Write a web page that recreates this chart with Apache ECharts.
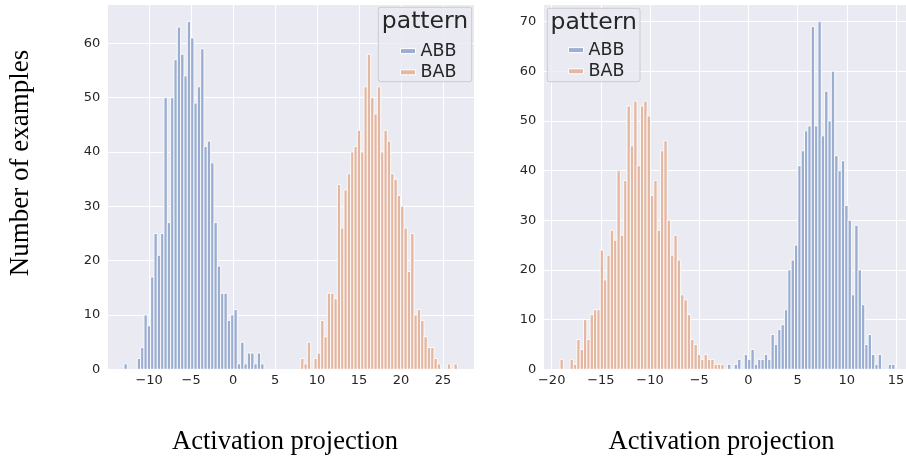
<!DOCTYPE html>
<html>
<head>
<meta charset="utf-8">
<script src="https://cdn.jsdelivr.net/npm/echarts@6/dist/echarts.min.js"></script>
<style>
  html, body { margin: 0; padding: 0; background: #ffffff; }
  #chart { width: 906px; height: 462px; }
</style>
</head>
<body>
<div id="chart"></div>
<script>
// Histogram settings: 100 equal-width bins per panel
const leftBinStart = -13.0;
const leftBinWidth = 0.397;
const rightBinStart = -19.15;
const rightBinWidth = 0.3405;

const patternNames = ['ABB', 'BAB'];
const xAxisTitle = 'Activation projection';
const yAxisTitle = 'Number of examples';
const legendTitle = 'pattern';

// Counts per bin, left panel
const leftABB = [
  1, 0, 0, 0, 2, 4, 10, 8, 17, 25,
  21, 25, 50, 27, 50, 57, 63, 58, 54, 64,
  61, 49, 52, 59, 41, 42, 38, 27, 19, 14,
  14, 9, 10, 11, 1, 5, 1, 3, 3, 1,
  3, 1, 0, 0, 0, 0, 0, 0, 0, 0,
  0, 0, 0, 0, 0, 0, 0, 0, 0, 0,
  0, 0, 0, 0, 0, 0, 0, 0, 0, 0,
  0, 0, 0, 0, 0, 0, 0, 0, 0, 0,
  0, 0, 0, 0, 0, 0, 0, 0, 0, 0,
  0, 0, 0, 0, 0, 0, 0, 0, 0, 0
];
const leftBAB = [
  0, 0, 0, 0, 0, 0, 0, 0, 0, 0,
  0, 0, 0, 0, 0, 0, 0, 0, 0, 0,
  0, 0, 0, 0, 0, 0, 0, 0, 0, 0,
  0, 0, 0, 0, 0, 0, 0, 0, 0, 0,
  0, 0, 0, 0, 0, 0, 0, 0, 0, 0,
  0, 0, 0, 2, 1, 5, 0, 2, 3, 9,
  6, 14, 14, 13, 34, 26, 33, 36, 40, 41,
  44, 40, 52, 58, 50, 47, 52, 40, 44, 42,
  36, 35, 32, 30, 26, 18, 25, 10, 11, 9,
  6, 4, 4, 2, 1, 0, 0, 1, 0, 1
];

// Counts per bin, right panel
const rightABB = [
  0, 0, 0, 0, 0, 0, 0, 0, 0, 0,
  0, 0, 0, 0, 0, 0, 0, 0, 0, 0,
  0, 0, 0, 0, 0, 0, 0, 0, 0, 0,
  0, 0, 0, 0, 0, 0, 0, 0, 0, 0,
  0, 0, 0, 0, 0, 0, 0, 0, 0, 0,
  1, 0, 1, 2, 0, 3, 2, 4, 1, 2,
  2, 3, 2, 7, 5, 8, 9, 12, 20, 22,
  25, 41, 44, 48, 49, 69, 49, 70, 47, 56,
  50, 60, 43, 40, 42, 33, 30, 15, 29, 20,
  13, 5, 7, 3, 1, 3, 0, 0, 1, 1
];
const rightBAB = [
  2, 0, 0, 2, 1, 6, 4, 10, 6, 11,
  12, 12, 24, 18, 23, 28, 26, 40, 27, 38,
  53, 45, 54, 41, 53, 54, 51, 35, 38, 28,
  44, 46, 30, 23, 27, 22, 15, 14, 11, 6,
  5, 3, 2, 3, 2, 2, 1, 1, 1, 0,
  0, 0, 0, 0, 0, 0, 0, 0, 0, 0,
  0, 0, 0, 0, 0, 0, 0, 0, 0, 0,
  0, 0, 0, 0, 0, 0, 0, 0, 0, 0,
  0, 0, 0, 0, 0, 0, 0, 0, 0, 0,
  0, 0, 0, 0, 0, 0, 0, 0, 0, 0
];

const colors = { ABB: 'rgb(155,174,209)', BAB: 'rgb(228,183,162)' };
const panelBg = '#eaeaf2';
const textColor = '#262626';

// turn counts into [binLeft, binRight, count] rows
function bins(counts, start, width) {
  const rows = [];
  counts.forEach((c, i) => {
    if (c > 0) rows.push([start + i * width, start + (i + 1) * width, c]);
  });
  return rows;
}

// axis limits with 5% padding around the data
function padded(start, width, n, pad) {
  const end = start + n * width;
  const m = (end - start) * pad;
  return [start - m, end + m];
}
const leftX = padded(leftBinStart, leftBinWidth, 100, 0.05);
const rightX = padded(rightBinStart, rightBinWidth, 100, 0.05);
const leftYMax = Math.max(...leftABB, ...leftBAB) * 1.05;
const rightYMax = Math.max(...rightABB, ...rightBAB) * 1.05;

function renderBar(params, api) {
  const top = api.coord([api.value(0), api.value(2)]);
  const base = api.coord([api.value(1), 0]);
  return {
    type: 'rect',
    shape: { x: top[0], y: top[1], width: base[0] - top[0], height: base[1] - top[1] },
    style: { fill: api.visual('color'), stroke: '#ffffff', lineWidth: 0.9 }
  };
}

function histSeries(name, counts, start, width, axisIndex) {
  return {
    type: 'custom',
    name: name,
    xAxisIndex: axisIndex,
    yAxisIndex: axisIndex,
    itemStyle: { color: colors[name] },
    encode: { x: [0, 1], y: 2 },
    data: bins(counts, start, width),
    renderItem: renderBar,
    clip: true,
    silent: true
  };
}

const minus = v => String(v).replace('-', '\u2212');

function xAxis(gridIndex, range) {
  return {
    type: 'value', gridIndex: gridIndex, min: range[0], max: range[1],
    minInterval: 5, maxInterval: 5, splitNumber: 8,
    axisLine: { show: false }, axisTick: { show: false },
    splitLine: { show: true, lineStyle: { color: '#ffffff', width: 1 } },
    axisLabel: {
      showMinLabel: false, showMaxLabel: false, margin: 5,
      color: textColor, fontFamily: 'DejaVu Sans', fontSize: 13,
      formatter: minus
    }
  };
}
function yAxis(gridIndex, max) {
  return {
    type: 'value', gridIndex: gridIndex, min: 0, max: max,
    minInterval: 10, maxInterval: 10,
    axisLine: { show: false }, axisTick: { show: false },
    splitLine: { show: true, lineStyle: { color: '#ffffff', width: 1 } },
    axisLabel: {
      showMaxLabel: false, margin: 7,
      color: textColor, fontFamily: 'DejaVu Sans', fontSize: 13
    }
  };
}

function legendBlock(left, top) {
  return {
    data: patternNames, orient: 'vertical', left: left, top: top,
    itemWidth: 15, itemHeight: 5, itemGap: 0, z: 20,
    icon: 'rect', selectedMode: false,
    itemStyle: { borderColor: '#ffffff', borderWidth: 1 },
    textStyle: { color: textColor, fontFamily: 'DejaVu Sans', fontSize: 17.5, lineHeight: 21.2 }
  };
}
function legendFrame(x, y, w, h, cx) {
  return [
    { type: 'rect', z: 10, shape: { x: x, y: y, width: w, height: h, r: 2 },
      style: { fill: 'rgba(234,234,242,0.8)', stroke: '#cccccc', lineWidth: 1 } },
    { type: 'text', z: 11, x: cx, y: y + 15,
      style: { text: legendTitle, fill: textColor, font: '23.5px "DejaVu Sans"',
               align: 'center', verticalAlign: 'middle' } }
  ];
}

const chart = echarts.init(document.getElementById('chart'), null, { renderer: 'canvas' });
chart.setOption({
  animation: false,
  backgroundColor: '#ffffff',
  grid: [
    { left: 107.3, top: 4.2, width: 366.7, height: 365.1, show: true, backgroundColor: panelBg,
      borderWidth: 0, containLabel: false, outerBoundsMode: 'none' },
    { left: 543.3, top: 4.2, width: 368.4, height: 365.1, show: true, backgroundColor: panelBg,
      borderWidth: 0, containLabel: false, outerBoundsMode: 'none' }
  ],
  xAxis: [xAxis(0, leftX), xAxis(1, rightX)],
  yAxis: [yAxis(0, leftYMax), yAxis(1, rightYMax)],
  legend: [legendBlock(395, 35.5), legendBlock(563, 34.5)],
  series: [
    histSeries('ABB', leftABB, leftBinStart, leftBinWidth, 0),
    histSeries('BAB', leftBAB, leftBinStart, leftBinWidth, 0),
    histSeries('ABB', rightABB, rightBinStart, rightBinWidth, 1),
    histSeries('BAB', rightBAB, rightBinStart, rightBinWidth, 1)
  ],
  graphic: [
    ...legendFrame(378.3, 7.3, 93.4, 74.4, 425),
    ...legendFrame(547.3, 8.3, 92.7, 73.4, 593.7),
    { type: 'text', x: 21, y: 163, rotation: Math.PI / 2,
      style: { text: yAxisTitle, fill: '#000000', font: '27px "Liberation Serif"',
               align: 'center', verticalAlign: 'middle' } },
    { type: 'text', x: 285, y: 442,
      style: { text: xAxisTitle, fill: '#000000', font: '26.5px "Liberation Serif"',
               align: 'center', verticalAlign: 'middle' } },
    { type: 'text', x: 721.5, y: 442,
      style: { text: xAxisTitle, fill: '#000000', font: '26.5px "Liberation Serif"',
               align: 'center', verticalAlign: 'middle' } }
  ]
});
</script>
</body>
</html>
